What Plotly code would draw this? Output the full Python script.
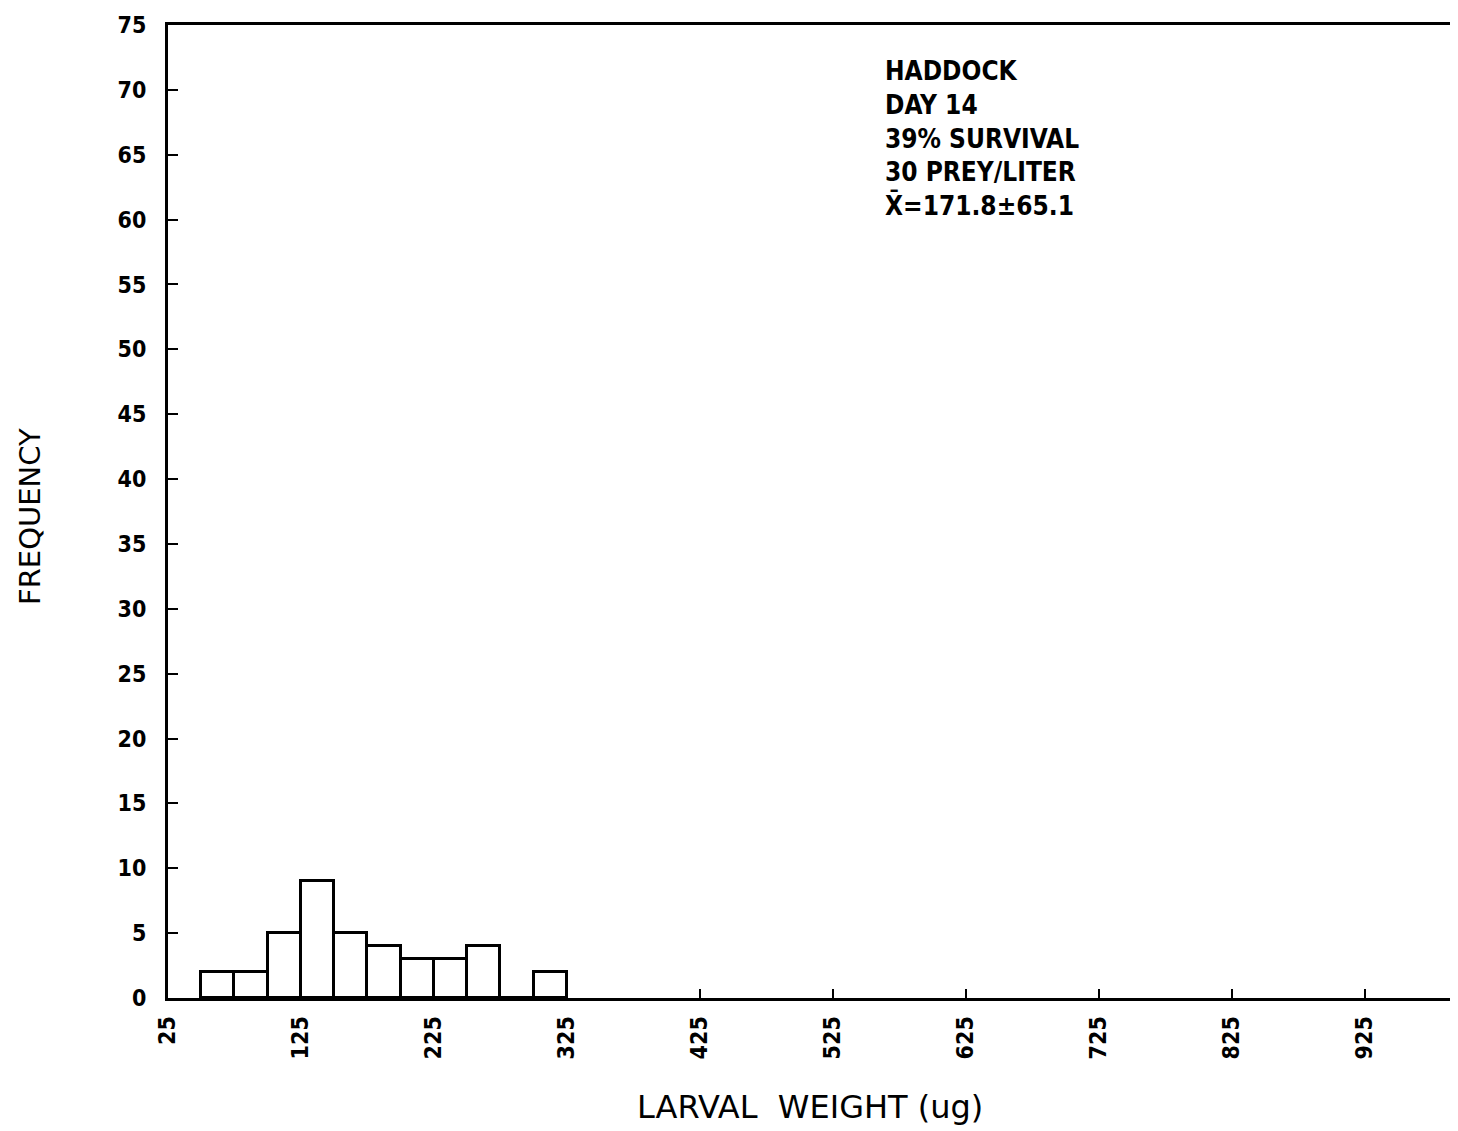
import plotly.graph_objects as go

# Histogram bins (lower edges, ug) and counts
bin_starts = [50, 75, 100, 125, 150, 175, 200, 225, 250, 275, 300]
counts = [2, 2, 5, 9, 5, 4, 3, 3, 4, 0, 2]
bin_width = 25

x_ticks = [25, 125, 225, 325, 425, 525, 625, 725, 825, 925]
x_tick_labels = ["25", "125", "225", "325", "425", "525", "625", "725", "825", "925"]
y_ticks = list(range(0, 80, 5))

info_lines = ["HADDOCK", "DAY 14", "39% SURVIVAL", "30 PREY/LITER", "X̄=171.8±65.1"]

narrow = "Liberation Sans Narrow, Arial Narrow, DejaVu Sans Condensed, sans-serif"
plain = "DejaVu Sans, Arial, sans-serif"

# page has ~8px body margin; figure sized to compensate
W, H = 1450, 1123
L, T = 160, 17
PW, PH = 1290, 973
B = H - T - PH
R = W - L - PW

centers = [s + bin_width / 2 for s in bin_starts]
fig = go.Figure()
fig.add_trace(go.Bar(
    x=centers, y=counts, width=[bin_width] * len(counts),
    marker=dict(color="white", line=dict(color="black", width=3)),
    showlegend=False,
))

fig.update_layout(
    width=W, height=H,
    margin=dict(l=L, r=R, t=T, b=B),
    paper_bgcolor="white", plot_bgcolor="white",
    font=dict(family=narrow, color="black"),
    bargap=0,
    xaxis=dict(
        range=[25, 995], tickvals=x_ticks, ticktext=x_tick_labels,
        tickangle=-90, ticks="inside", ticklen=9, tickwidth=2, tickcolor="black",
        showline=True, linecolor="black", linewidth=3, mirror=True,
        showgrid=False, zeroline=False, ticklabelstandoff=6,
        tickfont=dict(size=23, family=narrow, weight="bold"),
    ),
    yaxis=dict(
        range=[0, 75], tickvals=y_ticks,
        ticks="inside", ticklen=10, tickwidth=2, tickcolor="black",
        showline=True, linecolor="black", linewidth=3,
        showgrid=False, zeroline=False, ticklabelstandoff=14,
        tickfont=dict(size=23, family=narrow, weight="bold"),
    ),
)

def px_x(px):
    return (px - 8 - L) / PW

def px_y(py):
    return 1 - (py - 8 - T) / PH

# info block
fig.add_annotation(
    x=px_x(883), y=px_y(54), xref="paper", yref="paper", showarrow=False,
    text="<br>".join(info_lines), align="left",
    xanchor="left", yanchor="top",
    font=dict(size=26, family=narrow, weight="bold"),
)
# x title
fig.add_annotation(
    x=px_x(810), y=px_y(1107), xref="paper", yref="paper", showarrow=False,
    text="LARVAL  WEIGHT (ug)", xanchor="center", yanchor="middle",
    font=dict(size=32, family=plain),
)
# y title
fig.add_annotation(
    x=px_x(30), y=px_y(517), xref="paper", yref="paper", showarrow=False,
    text="FREQUENCY", textangle=-90, xanchor="center", yanchor="middle",
    font=dict(size=29, family=plain),
)

fig.write_html("out.html")
